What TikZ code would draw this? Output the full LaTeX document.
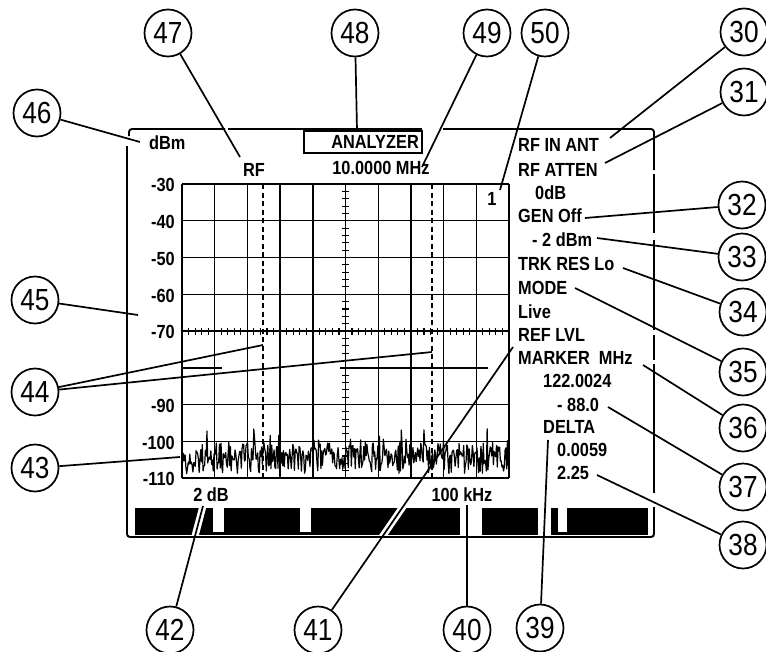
\documentclass[tikz,border=0pt]{standalone}
\usepackage{fontspec}
\setmainfont{Liberation Sans}[FakeStretch=0.86]
\begin{document}
\begin{tikzpicture}[x=1pt,y=-1pt,
  num/.style={circle,draw,line width=1.7pt,minimum size=47pt,inner sep=0pt,font=\fontsize{30.5}{30.5}\selectfont},
  lbl/.style={inner sep=0pt,font=\fontsize{19}{19}\selectfont\bfseries,text height=13.6pt,text depth=0pt},
  leader/.style={line width=1.7pt},
  halo/.style={line width=7pt,white},
  gridline/.style={line width=1.4pt},
  frameline/.style={line width=1.9pt},
  dashline/.style={line width=1.4pt,dash pattern=on 5pt off 3.5pt},
  tickline/.style={line width=1.1pt}]
\useasboundingbox (0,0) rectangle (766,651);

% ---------- grid ----------
\foreach \i in {0,...,10} {
  \draw[gridline] ({182+\i*32.7},184) -- ({182+\i*32.7},478);
}
\foreach \j in {0,1,2,3,4,6,7,8} {
  \draw[gridline] (182,{184+\j*36.75}) -- (509,{184+\j*36.75});
}
% partial -80 line
\draw[gridline] (182,368) -- (222,368);
\draw[gridline] (340,368) -- (488,368);
% ticks on centre vertical and -70 line
\foreach \k in {1,...,39} {
  \draw[tickline] (342,{184+\k*7.35}) -- (349,{184+\k*7.35});
}
\foreach \k in {1,...,49} {
  \draw[tickline] ({182+\k*6.54},328) -- ({182+\k*6.54},334.5);
}
% dashed markers
\draw[dashline] (263,184) -- (263,478);
\draw[dashline] (432,184) -- (432,478);

% noise trace
\pgfmathsetseed{11}
\draw[line width=1.2pt,line join=round]
  plot[domain=182:509,samples=420,variable=\t] (\t,{459+15*rand-16*pow(rnd,4)});

% ---------- frame ----------
\draw[frameline,rounded corners=3pt] (129,136) -- (129,129) -- (225,129);
\draw[frameline] (228,129) -- (422,129);
\draw[frameline,rounded corners=3pt] (443,129) -- (654,129) -- (654,170);
\draw[frameline] (654,174) -- (654,233);
\draw[frameline] (654,240) -- (654,330);
\draw[frameline] (654,335) -- (654,360);
\draw[frameline] (654,364) -- (654,493);
\draw[frameline,rounded corners=3pt] (654,507) -- (654,537) -- (127,537) -- (127,146);

% ANALYZER box
\node[draw,line width=1.2pt,minimum width=118pt,minimum height=22pt,inner sep=0pt] (box) at (363,142) {};
\node[lbl,anchor=east] (analyzer) at (419,142) {ANALYZER};

% soft-key bars
\fill (135,508) rectangle (648,535);
\fill[white] (213,508) rectangle (224,532);
\fill[white] (300,508) rectangle (311,532);
\fill[white] (460,508) rectangle (482,535);
\fill[white] (538,508) rectangle (551,535);
\fill[white] (558,508) rectangle (567,532);

% ---------- texts ----------
\node[lbl,anchor=west] (dbm) at (149,143) {dBm};
\node[lbl] (rf) at (254,170) {RF};
\node[lbl] (freq) at (381,168) {10.0000 MHz};
\node[lbl] (one) at (492,199) {1};
\foreach \v/\j in {-30/0,-40/1,-50/2,-60/3,-70/4,-90/6,-100/7,-110/8} {
  \node[lbl,anchor=east] at (175,{185+\j*36.75}) {\v};
}
\node[lbl] (twodb) at (211,495) {2 dB};
\node[lbl] (khz) at (462,495) {100 kHz};

\node[lbl,anchor=west] (t1) at (518,145) {RF IN ANT};
\node[lbl,anchor=west] (t2) at (518,169.5) {RF ATTEN};
\node[lbl,anchor=west] (t3) at (535,192.5) {0dB};
\node[lbl,anchor=west] (t4) at (518,216) {GEN Off};
\node[lbl,anchor=west] (t5) at (532,239.5) {- 2 dBm};
\node[lbl,anchor=west] (t6) at (518,264) {TRK RES Lo};
\node[lbl,anchor=west] (t7) at (518,288) {MODE};
\node[lbl,anchor=west] (t8) at (518,311.5) {Live};
\node[lbl,anchor=west] (t9) at (518,335) {REF LVL};
\node[lbl,anchor=west] (t10) at (518,358) {MARKER\ \ MHz};
\node[lbl,anchor=west] (t11) at (543,381) {122.0024};
\node[lbl,anchor=west] (t12) at (557,405) {- 88.0};
\node[lbl,anchor=west] (t13) at (543,427) {DELTA};
\node[lbl,anchor=west] (t14) at (557,450) {0.0059};
\node[lbl,anchor=west] (t15) at (557,473) {2.25};

% ---------- callout circles ----------
\node[num] (c30) at (744,32) {30};
\node[num] (c31) at (744,92) {31};
\node[num] (c32) at (742,205) {32};
\node[num] (c33) at (742,257) {33};
\node[num] (c34) at (743,312) {34};
\node[num] (c35) at (743,372) {35};
\node[num] (c36) at (743,428) {36};
\node[num] (c37) at (743,487) {37};
\node[num] (c38) at (743,545) {38};
\node[num] (c39) at (540,628) {39};
\node[num] (c40) at (467,630) {40};
\node[num] (c41) at (318,630) {41};
\node[num] (c42) at (170,630) {42};
\node[num] (c43) at (35,468) {43};
\node[num] (c44) at (35,392) {44};
\node[num] (c45) at (35,300) {45};
\node[num] (c46) at (37,113) {46};
\node[num] (c47) at (168,33) {47};
\node[num] (c48) at (355,33) {48};
\node[num] (c49) at (487,33) {49};
\node[num] (c50) at (545,33) {50};

% leader end points
\coordinate (e30) at (610,138);
\coordinate (e31) at (605,163);
\coordinate (e32) at (585,218);
\coordinate (e33) at (597,238);
\coordinate (e34) at (623,268);
\coordinate (e35) at (575,288);
\coordinate (e36) at (643,365);
\coordinate (e37) at (608,407);
\coordinate (e38) at (597,475);
\coordinate (e39) at (548,440);
\coordinate (e40) at (467,505);
\coordinate (e41) at (513,347);
\coordinate (e42) at (203,506);
\coordinate (e43) at (180,457);
\coordinate (e44a) at (263,345);
\coordinate (e44b) at (432,352);
\coordinate (e45) at (138,315);
\coordinate (e46) at (140,142);
\coordinate (e47) at (240,157);
\coordinate (e48) at (357,130);
\coordinate (e49) at (422,167);
\coordinate (e50) at (500,190);

% halos through the soft-key bars
\begin{scope}
  \clip (135,508) rectangle (648,535);
  \draw[halo] (c42) -- (e42);
  \draw[halo] (c41) -- (e41);
\end{scope}

% leaders
\foreach \n in {30,31,32,33,34,35,36,37,38,39,40,41,42,43,45,46,47,48,49,50} {
  \draw[leader] (c\n) -- (e\n);
}
\draw[leader] (c44) -- (e44a);
\draw[leader] (c44) -- (e44b);
\end{tikzpicture}
\end{document}
